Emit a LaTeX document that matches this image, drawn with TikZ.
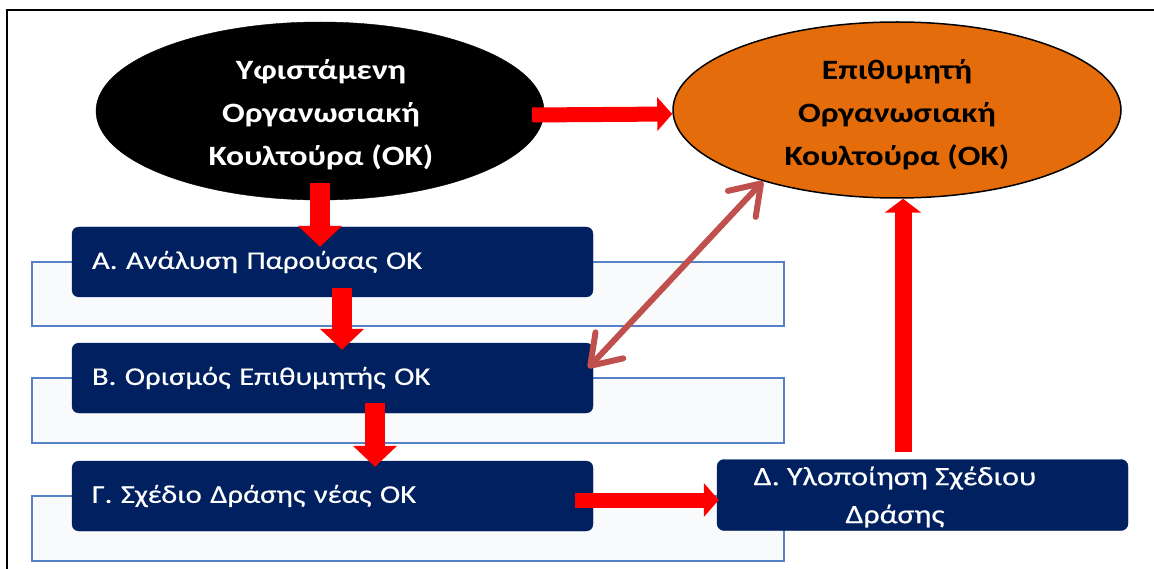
\documentclass[tikz,border=0pt]{standalone}
\usepackage{fontspec}
\setmainfont{Carlito}
\newfontfamily\wfont[FakeStretch=1.2]{Carlito}
\newfontfamily\boxfont[FakeStretch=1.2,FakeBold=0.4]{Carlito}
\usetikzlibrary{arrows.meta,shapes.geometric,calc}
\definecolor{navy}{RGB}{0,32,96}
\definecolor{orangefill}{RGB}{228,108,10}
\definecolor{brownred}{RGB}{192,80,77}
\definecolor{bracketblue}{RGB}{84,130,196}
\definecolor{bracketfill}{RGB}{249,250,252}
\definecolor{arrred}{RGB}{255,0,0}
\tikzset{
  frameline/.style={line width=2.2pt, draw=black},
  bracketbox/.style={draw=bracketblue, fill=bracketfill, line width=2.8pt},
  stepbox/.style={rectangle, rounded corners=7pt, fill=navy, draw=navy,
    minimum width=521pt, minimum height=70pt, text width=481pt, inner xsep=20pt,
    align=left, text=white, font=\boxfont\fontsize{25.5}{30}\selectfont},
  ellbox/.style={ellipse, minimum width=448pt, minimum height=178pt, inner sep=0pt},
  elltext/.style={align=center, inner sep=0pt, font=\wfont\bfseries\fontsize{28}{43}\selectfont},
  varr/.style={draw=arrred, line width=20pt, -{Triangle[width=43pt,length=21pt]}},
  harr/.style={draw=arrred, line width=15pt, -{Triangle[width=33pt,length=15pt]}},
  uparr/.style={draw=arrred, line width=17pt, -{Triangle[width=36pt,length=14pt]}},
  dblarr/.style={draw=brownred, line width=6pt, line cap=round,
    {Straight Barb[length=28pt,width=38pt,round]}-{Straight Barb[length=28pt,width=38pt,round]}},
}
\begin{document}
\begin{tikzpicture}[x=1pt,y=-1pt]
\useasboundingbox (0,0) rectangle (1154,569);
\fill[white] (0,0) rectangle (1154,569);
\draw[frameline] (7,575) -- (7,10) -- (1160,10);

% brackets
\draw[bracketbox] (32,262) rectangle (784,326);
\draw[bracketbox] (32,378) rectangle (784,443);
\draw[bracketbox] (32,496) rectangle (784,561);

% ellipses
\node[ellbox, fill=black, draw=black] (blk) at (320,111) {};
\node[elltext, text=white] (blktext) at (321,115)
  {Υφιστάμενη\\Οργανωσιακή\\Κουλτούρα (ΟΚ)};
\node[ellbox, fill=orangefill, draw=black, line width=1.5pt,
  minimum height=176pt] (org) at (897,110) {};
\node[elltext, text=black] (orgtext) at (897,115)
  {Επιθυμητή\\Οργανωσιακή\\Κουλτούρα (ΟΚ)};

% step boxes
\node[stepbox] (A) at (332.5,262) {Α. Ανάλυση Παρούσας ΟΚ};
\node[stepbox] (B) at (332.5,378) {Β. Ορισμός Επιθυμητής ΟΚ};
\node[stepbox] (G) at (332.5,496) {Γ. Σχέδιο Δράσης νέας ΟΚ};
\node[rectangle, rounded corners=7pt, fill=navy, draw=navy,
  minimum width=411pt, minimum height=71pt] (D) at (922.5,495) {};
\node[align=center, text=white, font=\boxfont\fontsize{26.5}{38}\selectfont, inner sep=0pt]
  (Dtext) at (895,497) {Δ. Υλοποίηση Σχέδιου\\Δράσης};

% arrows
\draw[varr] ([yshift=17pt]blk.south) -- ([yshift=-20pt]A.north -| blk.south);
\draw[varr] ([shift={(9.5pt,9pt)}]A.south) -- ([shift={(9.5pt,-7pt)}]B.north);
\draw[varr] ([shift={(42.5pt,10pt)}]B.south) -- ([shift={(42.5pt,-6pt)}]G.north);
\draw[harr] ([shift={(-18pt,-4pt)}]G.east) -- ([shift={(2pt,-5pt)}]D.west);
\draw[uparr] ([shift={(-19.5pt,7pt)}]D.north) -- ([xshift=6pt]org.south);
\draw[harr] ([shift={(-12pt,-4pt)}]blk.east) -- ([yshift=-4pt]org.west);
\draw[dblarr] ([shift={(-5pt,10pt)}]B.east) -- (org.208);
\end{tikzpicture}
\end{document}
